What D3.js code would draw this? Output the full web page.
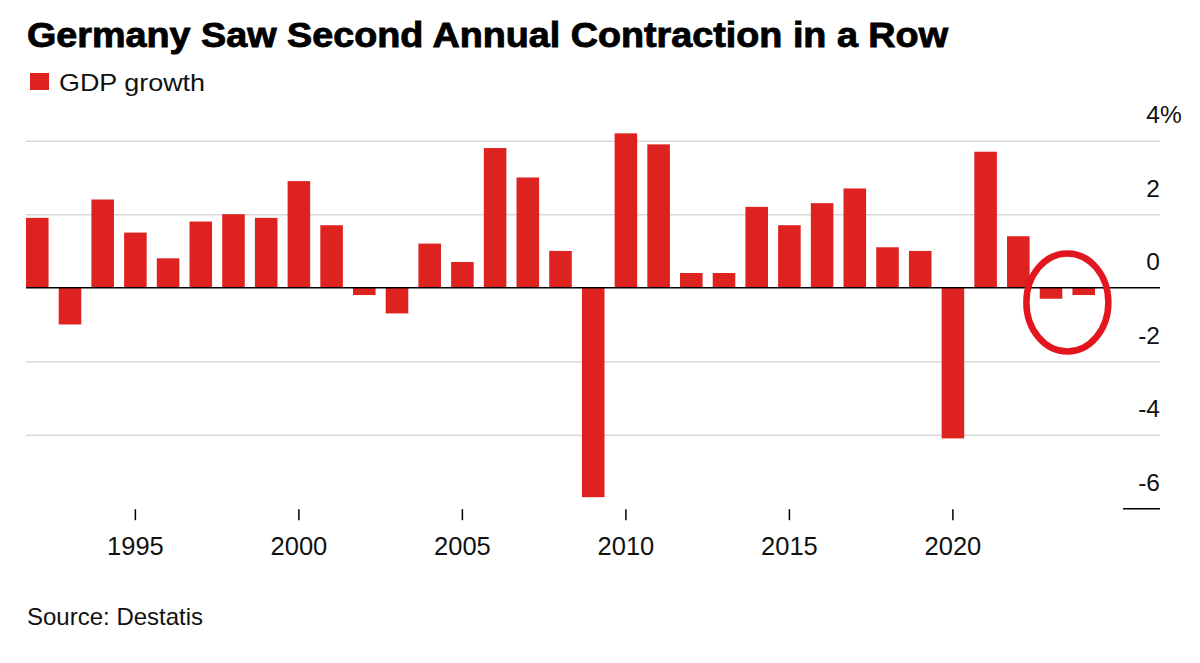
<!DOCTYPE html>
<html>
<head>
<meta charset="utf-8">
<script src="https://cdn.jsdelivr.net/npm/d3@7"></script>
<style>
	body { margin: 0; background: #fff; }
	svg { display: block; font-family: "Liberation Sans", Arial, Helvetica, sans-serif; }
</style>
</head>
<body>
<svg id="chart" width="1200" height="663"></svg>
<script>
// GDP growth, % year on year
var years = [1992, 1993, 1994, 1995, 1996, 1997, 1998, 1999, 2000, 2001,
	2002, 2003, 2004, 2005, 2006, 2007, 2008, 2009, 2010, 2011,
	2012, 2013, 2014, 2015, 2016, 2017, 2018, 2019, 2020, 2021,
	2022, 2023, 2024];
var growth = [1.9, -1.0, 2.4, 1.5, 0.8, 1.8, 2.0, 1.9, 2.9, 1.7,
	-0.2, -0.7, 1.2, 0.7, 3.8, 3.0, 1.0, -5.7, 4.2, 3.9,
	0.4, 0.4, 2.2, 1.7, 2.3, 2.7, 1.1, 1.0, -4.1, 3.7,
	1.4, -0.3, -0.2];
var yearTicks = [1995, 2000, 2005, 2010, 2015, 2020];
var valueTicks = [-6, -4, -2, 0, 2, 4];
var circled = [2023, 2024];

var RED = "#dd221f";
var svg = d3.select("#chart");
var LEFT = 26, RIGHT = 1160;

var xScale = d3.scaleBand()
	.domain(years)
	.range([LEFT, 1095])
	.paddingInner(0.31)
	.paddingOuter(0);

var yScale = d3.scaleLinear()
	.domain([-6, 4])
	.range([508.2, 140.7]);

// title + legend
svg.append("text")
	.attr("x", 27).attr("y", 47)
	.attr("font-size", 35).attr("font-weight", "bold")
	.attr("fill", "#000")
	.attr("stroke", "#000").attr("stroke-width", 0.9)
	.attr("textLength", 921).attr("lengthAdjust", "spacingAndGlyphs")
	.text("Germany Saw Second Annual Contraction in a Row");

svg.append("rect")
	.attr("x", 30).attr("y", 73).attr("width", 19).attr("height", 17)
	.attr("fill", RED);
svg.append("text")
	.attr("x", 59).attr("y", 91)
	.attr("font-size", 24).attr("fill", "#111")
	.attr("textLength", 146).attr("lengthAdjust", "spacingAndGlyphs")
	.text("GDP growth");

// y axis with gridlines, labels sit above the lines on the right
var yAxis = d3.axisRight(yScale)
	.tickValues(valueTicks)
	.tickSize(-(RIGHT - LEFT))
	.tickFormat(function(d) { return d; });

var gy = svg.append("g")
	.attr("transform", "translate(" + RIGHT + ",0)")
	.call(yAxis);
gy.select(".domain").remove();
gy.selectAll(".tick line")
	.attr("stroke", "#d9d9d9")
	.attr("stroke-width", 1.5);
gy.selectAll(".tick")
	.filter(function(d) { return d === -6; })
	.select("line")
	.attr("x2", -37)
	.attr("stroke", "#000");
gy.selectAll(".tick")
	.filter(function(d) { return d === 0; })
	.select("line")
	.attr("stroke", "none");
gy.selectAll(".tick text")
	.attr("x", 0).attr("dy", -18)
	.attr("text-anchor", "end")
	.attr("font-size", 24.5)
	.attr("fill", "#111");
gy.selectAll(".tick")
	.filter(function(d) { return d === valueTicks[valueTicks.length - 1]; })
	.append("text")
	.attr("x", 0).attr("dy", -18)
	.attr("font-size", 24.5)
	.attr("fill", "#111")
	.text("%");

// bars
svg.append("g")
	.selectAll("rect")
	.data(years)
	.join("rect")
	.attr("x", function(d) { return xScale(d); })
	.attr("width", xScale.bandwidth())
	.attr("y", function(d, i) { return yScale(Math.max(0, growth[i])); })
	.attr("height", function(d, i) { return Math.abs(yScale(growth[i]) - yScale(0)); })
	.attr("fill", RED);

// zero line
svg.append("line")
	.attr("x1", LEFT).attr("x2", RIGHT)
	.attr("y1", yScale(0)).attr("y2", yScale(0))
	.attr("stroke", "#000")
	.attr("stroke-width", 1.5);

// x axis
var xAxis = d3.axisBottom(xScale)
	.tickValues(yearTicks)
	.tickSize(11)
	.tickSizeOuter(0);

var gx = svg.append("g")
	.attr("transform", "translate(0," + (yScale(-6) + 1) + ")")
	.call(xAxis);
gx.select(".domain").remove();
gx.selectAll(".tick line")
	.attr("stroke", "#000")
	.attr("stroke-width", 1.5);
gx.selectAll(".tick text")
	.attr("y", 46).attr("dy", 0)
	.attr("font-size", 25.5)
	.attr("fill", "#111");

// hand drawn circle round the last two years
var cx = (xScale(circled[0]) + xScale(circled[1]) + xScale.bandwidth()) / 2;
svg.append("ellipse")
	.attr("cx", cx)
	.attr("cy", yScale(-0.4))
	.attr("rx", 41)
	.attr("ry", 49)
	.attr("fill", "none")
	.attr("stroke", "#e3151f")
	.attr("stroke-width", 6.5);

// source
svg.append("text")
	.attr("x", 27).attr("y", 625)
	.attr("font-size", 24).attr("fill", "#111")
	.text("Source: Destatis");
</script>
</body>
</html>
